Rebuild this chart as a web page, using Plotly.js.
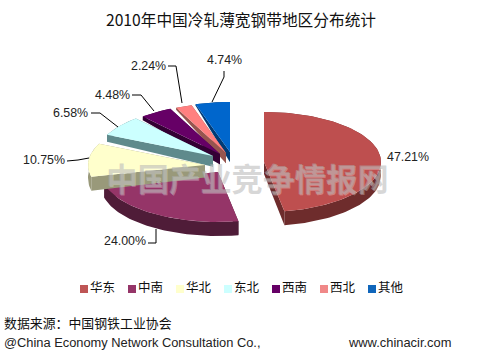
<!DOCTYPE html>
<html>
<head>
<meta charset="utf-8">
<script src="https://cdn.plot.ly/plotly-3.0.0.min.js"></script>
<style>html,body{margin:0;padding:0;background:#fff}</style>
</head>
<body>
<div id="chart" style="width:492px;height:354px"></div>
<script>
// Data
const categories = ['华东','中南','华北','东北','西南','西北','其他'];
const shares = [47.21,24.00,10.75,6.58,4.48,2.24,4.74];

// Style
const topColors = ['#BE4F4F','#953568','#FFFFCC','#CCFFFF','#660066','#FF8080','#0066CC'];
const sideColors = ['#6E2C2C','#4F1C38','#99997A','#5F8A8C','#330033','#96554F','#003A75'];
const legendColors = ['#BE5555','#953568','#FFFFCC','#CCFFFF','#660066','#F08888','#1066BB'];

// Pseudo-3D pie geometry, in page pixels
const radiusX = 117, radiusY = 50;
const sliceCentreX = [264,218,205,213,220,226,230];
const sliceCentreY = [162,172,165,156,154,153,152];
const drawOrder = [0,1,6,5,4,3,2];
const labelX = [386,103,22,52,94,130,206];
const labelY = [157,241,160,113,95,66,60];
const leaders = [
  null,
  [[148,243],[156,243],[156,229]],
  [[67,161],[78,160],[89,158]],
  [[91,113],[100,113],[118,127]],
  [[132,95],[141,95],[154,111]],
  [[168,66],[176,66],[182,103]],
  [[224,71],[224,77],[212,102]]
];

const total = shares.reduce((a,b)=>a+b,0);
let running = 0;
const slices = shares.map((v,i)=>{
  const a0 = running/total*2*Math.PI;
  running += v;
  const a1 = running/total*2*Math.PI;
  const steps = Math.max(4,Math.ceil((a1-a0)/0.03));
  const arc = [];
  for(let k=0;k<=steps;k++){
    const a = a0+(a1-a0)*k/steps;
    arc.push([sliceCentreX[i]+radiusX*Math.sin(a), sliceCentreY[i]-radiusY*Math.cos(a)]);
  }
  return {apex:[sliceCentreX[i],sliceCentreY[i]],arc};
});
// the slab looks thinner towards the back of the pie
const down = p=>[p[0],p[1]+Math.min(14,Math.max(1.5,1.5+(p[1]-104)*0.18))];
function polyTrace(poly,color,name){
  const closed=[...poly,poly[0]];
  return {type:'scatter',mode:'lines',x:closed.map(p=>p[0]),y:closed.map(p=>p[1]),fill:'toself',fillcolor:color,
    line:{width:0,color:color},hoverinfo:'skip',showlegend:false,name:name};
}
const traces=[];
drawOrder.forEach(i=>{
  const s=slices[i];
  const first=s.arc[0], last=s.arc[s.arc.length-1], n=categories[i];
  traces.push(polyTrace([...s.arc,...s.arc.slice().reverse().map(down)],sideColors[i],n+' arc side'));
  traces.push(polyTrace([s.apex,first,down(first),down(s.apex)],sideColors[i],n+' cut 1'));
  traces.push(polyTrace([s.apex,last,down(last),down(s.apex)],sideColors[i],n+' cut 2'));
  traces.push(polyTrace([s.apex,...s.arc],topColors[i],n));
});
// Legend row
categories.forEach((c,i)=>{
  traces.push({type:'scatter',mode:'markers+text',x:[84+48*i],y:[289],text:[c],textposition:'middle right',
    textfont:{family:'"Noto Sans CJK SC"',size:12.5,color:'#111'},
    marker:{symbol:'square',size:8,color:legendColors[i]},hoverinfo:'skip',showlegend:false,name:c});
});

const annotations = shares.map((v,i)=>({
  xref:'x',yref:'y',x:labelX[i]-1.5,y:labelY[i],xanchor:'left',yanchor:'middle',showarrow:false,
  text:v.toFixed(2)+'%',font:{family:'"Liberation Sans"',size:12.4,color:'#222'}
}));
annotations.push({xref:'x',yref:'y',x:104,y:177,xanchor:'left',yanchor:'middle',showarrow:false,
  text:'中国产业竞争情报网',font:{family:'"Noto Sans CJK SC"',size:31.4,color:'rgba(175,175,175,0.5)',weight:700,
    shadow:'1px 1px 0 rgba(255,255,255,0.6)'}});
annotations.push({xref:'x',yref:'y',x:2,y:322,xanchor:'left',yanchor:'middle',showarrow:false,
  text:'数据来源：中国钢铁工业协会',font:{family:'"Noto Sans CJK SC"',size:12.9,color:'#111'}});
annotations.push({xref:'x',yref:'y',x:2,y:342,xanchor:'left',yanchor:'middle',showarrow:false,
  text:'@China Economy Network Consultation Co.,',font:{family:'"Liberation Sans"',size:12.85,color:'#222'}});
annotations.push({xref:'x',yref:'y',x:346,y:342,xanchor:'left',yanchor:'middle',showarrow:false,
  text:'www.chinacir.com',font:{family:'"Liberation Sans"',size:12.9,color:'#222'}});

const shapes = leaders.filter(Boolean).map(l=>({
  type:'path',xref:'x',yref:'y',
  path:l.map((p,k)=>(k?'L':'M')+p[0]+' '+p[1]).join(' '),
  line:{color:'#000',width:1}
}));

Plotly.newPlot('chart',traces,{
  width:492,height:354,autosize:false,
  margin:{l:0,r:0,t:0,b:0,pad:0},
  paper_bgcolor:'#fff',plot_bgcolor:'#fff',showlegend:false,
  title:{text:'2010年中国冷轧薄宽钢带地区分布统计',x:241/492,xanchor:'center',y:1-21/354,yanchor:'middle',
    font:{family:'"Noto Sans CJK SC"',size:15.7,color:'#111'}},
  xaxis:{range:[0,492],visible:false,fixedrange:true},
  yaxis:{range:[354,0],visible:false,fixedrange:true},
  annotations,shapes
},{displayModeBar:false,staticPlot:true});
</script>
</body>
</html>
